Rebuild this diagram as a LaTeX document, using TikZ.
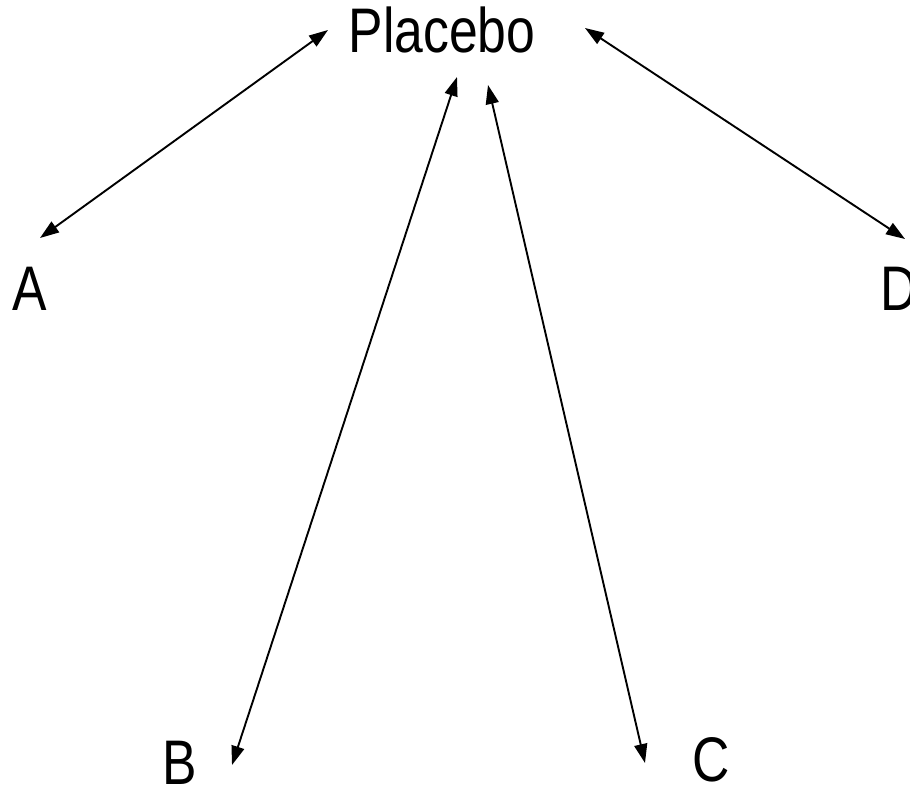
\documentclass[tikz,border=0pt]{standalone}
\usepackage{fontspec}
\setmainfont{Liberation Sans}[FakeStretch=0.82]
\usetikzlibrary{arrows.meta}
\begin{document}
\begin{tikzpicture}[x=1pt,y=-1pt,
  lbl/.style={inner sep=0pt,anchor=base,font=\fontsize{63}{70}\selectfont},
  arr/.style={line width=1.9pt,{Triangle[length=19pt,width=13pt]}-{Triangle[length=19pt,width=13pt]}}]
\useasboundingbox (0,0) rectangle (910,789);
\node[lbl] (P) at (442,53) {Placebo};
\node[lbl] (A) at (30,310) {A};
\node[lbl] (B) at (180,784) {B};
\node[lbl] (C) at (711,781) {C};
\node[lbl] (D) at (899,310) {D};
\coordinate (PA) at (328,30);
\coordinate (AP) at (40,238);
\coordinate (PD) at (585,28);
\coordinate (DP) at (905,239);
\coordinate (PB) at (457,77);
\coordinate (BP) at (232,765);
\coordinate (PC) at (488,85);
\coordinate (CP) at (645,763);
\draw[arr] (PA) -- (AP);
\draw[arr] (PD) -- (DP);
\draw[arr] (PB) -- (BP);
\draw[arr] (PC) -- (CP);
\end{tikzpicture}
\end{document}
